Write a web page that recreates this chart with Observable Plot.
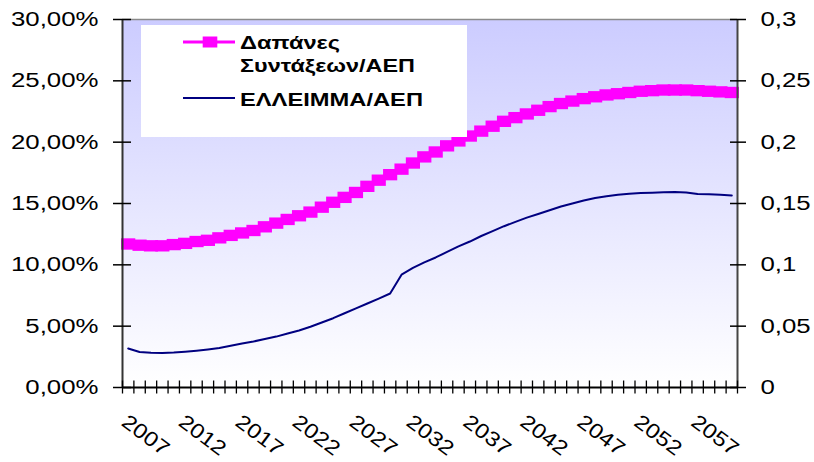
<!DOCTYPE html>
<html>
<head>
<meta charset="utf-8">
<script src="https://cdn.jsdelivr.net/npm/d3@7"></script>
<script src="https://cdn.jsdelivr.net/npm/@observablehq/plot@0.6"></script>
<style>
  html, body { margin: 0; padding: 0; background: #ffffff; }
  #chart { width: 814px; height: 462px; }
</style>
</head>
<body>
<div id="chart"></div>
<script>
// ---- data ----
const years = d3.range(2007, 2061); // 2007 … 2060 categories
const pensionPct = [
  11.7, 11.6, 11.55, 11.55, 11.65, 11.75, 11.9, 12.0, 12.2, 12.4,
  12.6, 12.8, 13.1, 13.4, 13.7, 14.0, 14.3, 14.7, 15.1, 15.5,
  15.9, 16.4, 16.9, 17.35, 17.8, 18.3, 18.8, 19.2, 19.7, 20.1,
  20.5, 20.9, 21.3, 21.7, 22.0, 22.3, 22.6, 22.9, 23.15, 23.35,
  23.55, 23.7, 23.85, 23.95, 24.05, 24.15, 24.2, 24.25, 24.25, 24.25,
  24.2, 24.15, 24.1, 24.05
];
const deficitRatio = [
  0.0318, 0.029, 0.0283, 0.0282, 0.0285, 0.0292, 0.030, 0.031, 0.0322, 0.034,
  0.0358, 0.0375, 0.0395, 0.0415, 0.044, 0.0465, 0.0495, 0.053, 0.0565, 0.0605,
  0.0645, 0.0685, 0.0725, 0.0766, 0.092, 0.0975, 0.102, 0.106, 0.1105, 0.115,
  0.119, 0.1235, 0.1275, 0.1315, 0.135, 0.1385, 0.1415, 0.1445, 0.1475, 0.150,
  0.1525, 0.1545, 0.156, 0.1572, 0.158, 0.1585, 0.1588, 0.1592, 0.1594, 0.159,
  0.1578, 0.1575, 0.1572, 0.1565
];
const labelYears = [2007, 2012, 2017, 2022, 2027, 2032, 2037, 2042, 2047, 2052, 2057];
const yTicks = [0, 0.05, 0.1, 0.15, 0.2, 0.25, 0.3];
const leftTickLabels = ["0,00%", "5,00%", "10,00%", "15,00%", "20,00%", "25,00%", "30,00%"];
const rightTickLabels = ["0", "0,05", "0,1", "0,15", "0,2", "0,25", "0,3"];
const legendLines1 = ["Δαπάνες", "Συντάξεων/ΑΕΠ"];
const legendLine2 = "ΕΛΛΕΙΜΜΑ/ΑΕΠ";

const MAGENTA = "#FF00FF";
const NAVY = "#000080";
const FONT = "'Liberation Sans', Arial, Helvetica, sans-serif";

const data = years.map((year, i) => ({year, pension: pensionPct[i] / 100, deficit: deficitRatio[i]}));
const bounds = years.map(y => y - 0.5).concat([years[years.length - 1] + 0.5]);

// wide rectangular marker (as in the original)
const rectSymbol = {
  draw(ctx, size) {
    const h = Math.sqrt(size);
    const w = h * 1.25;
    ctx.rect(-w / 2, -h / 2, w, h);
  }
};

const gradientDefs = () => {
  const defs = d3.create("svg:defs");
  const g = defs.append("linearGradient").attr("id", "plotbg")
    .attr("x1", 0).attr("y1", 0).attr("x2", 0).attr("y2", 1);
  g.append("stop").attr("offset", "0%").attr("stop-color", "#CCCCFF");
  g.append("stop").attr("offset", "100%").attr("stop-color", "#FFFFFF");
  return defs.node();
};

const chart = Plot.plot({
  width: 814,
  height: 462,
  marginLeft: 122,
  marginRight: 77,
  marginTop: 19,
  marginBottom: 75,
  style: {fontFamily: FONT, fontSize: "20px", background: "#ffffff", color: "#000000"},
  x: {type: "linear", domain: [bounds[0], bounds[bounds.length - 1]]},
  y: {type: "linear", domain: [0, 0.3]},
  marks: [
    gradientDefs,
    Plot.frame({fill: "url(#plotbg)", stroke: "none"}),
    Plot.line(data, {x: "year", y: "deficit", stroke: NAVY, strokeWidth: 2}),
    Plot.line(data, {x: "year", y: "pension", stroke: MAGENTA, strokeWidth: 3}),
    Plot.dot(data, {x: "year", y: "pension", symbol: rectSymbol, r: 6.4, fill: MAGENTA, stroke: "none"}),
    // frame lines
    Plot.ruleY([0.3], {stroke: "#8a8a8a", strokeWidth: 1.5}),
    Plot.ruleX([bounds[0]], {stroke: "#333333", strokeWidth: 2}),
    Plot.ruleX([bounds[bounds.length - 1]], {stroke: "#444444", strokeWidth: 2}),
    Plot.ruleY([0], {stroke: "#000000", strokeWidth: 2}),
    // crossing tick marks
    Plot.axisY({anchor: "left", ticks: yTicks, tickSize: 18, dx: 9, tickFormat: () => "", label: null, strokeWidth: 1.5}),
    Plot.axisY({anchor: "right", ticks: yTicks, tickSize: 16, dx: -8, tickFormat: () => "", label: null, strokeWidth: 1.5}),
    Plot.axisX({anchor: "bottom", ticks: bounds, tickSize: 13, dy: -6.5, tickFormat: () => "", label: null, strokeWidth: 1.3}),
    // tick labels
    Plot.axisY({anchor: "left", ticks: yTicks, tickSize: 0, tickPadding: 24,
      tickFormat: d => leftTickLabels[yTicks.indexOf(d)], label: null, fontSize: 20}),
    Plot.axisY({anchor: "right", ticks: yTicks, tickSize: 0, tickPadding: 23,
      tickFormat: d => rightTickLabels[yTicks.indexOf(d)], label: null, fontSize: 20}),
    Plot.text(labelYears, {x: d => d, text: d => String(d), frameAnchor: "bottom",
      dx: -8, dy: 37, rotate: 37, textAnchor: "start", lineAnchor: "bottom", fontSize: 20.5, fill: "#000000"})
  ]
});

document.getElementById("chart").appendChild(chart);

const svg = d3.select(chart);

function stretch(sel, factor) {
  sel.each(function () {
    const w = this.getComputedTextLength();
    if (w > 0) {
      this.setAttribute("textLength", (w * factor).toFixed(2));
      this.setAttribute("lengthAdjust", "spacingAndGlyphs");
    }
  });
}
stretch(svg.selectAll('g[aria-label="y-axis tick label"] text'), 1.29);
stretch(svg.selectAll('g[aria-label="text"] text'), 1.17);

// legend (inside plot area, like the original)
const lg = svg.append("g")
  .attr("font-family", FONT)
  .attr("font-weight", "bold")
  .attr("font-size", 17.5)
  .attr("text-anchor", "start")
  .attr("fill", "#000000");
lg.append("rect").attr("x", 141).attr("y", 25).attr("width", 326).attr("height", 112).attr("fill", "#ffffff");
lg.append("line").attr("x1", 183).attr("x2", 235).attr("y1", 42).attr("y2", 42)
  .attr("stroke", MAGENTA).attr("stroke-width", 3);
lg.append("rect").attr("x", 202.7).attr("y", 36.5).attr("width", 14.6).attr("height", 11).attr("fill", MAGENTA);
lg.append("line").attr("x1", 183).attr("x2", 235).attr("y1", 98).attr("y2", 98)
  .attr("stroke", NAVY).attr("stroke-width", 2);
const t1 = lg.append("text").attr("x", 240).attr("y", 49).text(legendLines1[0]);
const t2 = lg.append("text").attr("x", 240).attr("y", 72).text(legendLines1[1]);
const t3 = lg.append("text").attr("x", 240).attr("y", 106).text(legendLine2);
[[t1, 100], [t2, 175], [t3, 183]].forEach(([t, len]) => {
  t.attr("textLength", len).attr("lengthAdjust", "spacingAndGlyphs");
});
</script>
</body>
</html>
